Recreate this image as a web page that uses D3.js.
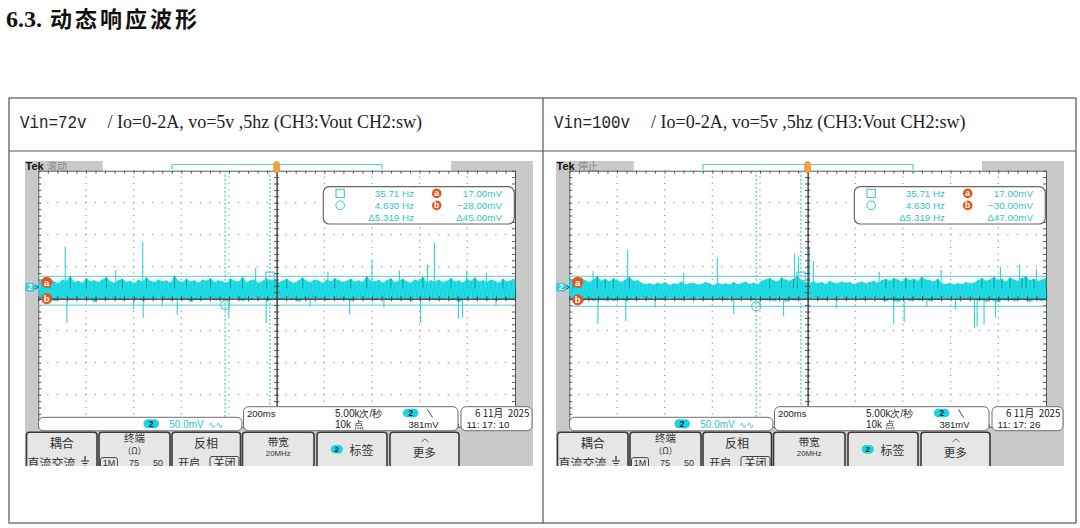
<!DOCTYPE html>
<html>
<head>
<meta charset="utf-8">
<script src="https://cdn.jsdelivr.net/npm/d3@7"></script>
<style>
  body { margin: 0; background: #fff; }
  svg { display: block; }
</style>
</head>
<body>
<svg width="1080" height="528"></svg>
<script>
// ---- values ----
const vinLabels = ['Vin=72v', 'Vin=100v'];
const loadText = '/ Io=0-2A, vo=5v ,5hz';
const chText = '(CH3:Vout CH2:sw)';
const runState = ['滚动', '停止'];
const clockTimes = ['11: 17: 10', '11: 17: 26'];
const dateText = '6 11月  2025';
const timeScale = 200;      // ms / div
const ch2Scale = 50;        // mV / div
const ch2Position = 0.36;   // div above centre
const sampleRate = '5.00k次/秒';
const recordLen = '10k 点';
const trigLevel = '381mV';
const cursorA = [17.00, 17.00];     // mV
const cursorB = [-28.00, -30.00];   // mV
const cursorT1 = [-28, -28];        // ms
const cursorT2 = [-216, -216];      // ms

// noise band envelope of CH2, mV (120 samples over 2 s)
const upper72 = [
  8, 11, 7, 13, 9, 6, 12, 10, 17, 8,
  10, 7, 14, 9, 11, 8, 12, 16, 9, 7,
  11, 13, 8, 10, 6, 12, 9, 15, 10, 8,
  12, 9, 11, 7, 18, 10, 8, 13, 9, 11,
  7, 12, 10, 14, 8, 11, 9, 7, 13, 10,
  9, 16, 8, 11, 12, 7, 10, 14, 9, 12,
  8, 10, 13, 9, 7, 11, 15, 10, 8, 12,
  10, 7, 12, 9, 14, 11, 8, 10, 13, 9,
  11, 8, 17, 10, 9, 12, 7, 11, 14, 8,
  10, 13, 9, 7, 12, 10, 16, 8, 11, 9,
  12, 8, 10, 14, 9, 11, 7, 13, 10, 15,
  9, 11, 8, 12, 10, 7, 13, 9, 11, 10
];
const lower72 = [
  -18, -20, -17, -19, -22, -18, -19, -17, -21, -18,
  -19, -17, -20, -18, -24, -19, -18, -20, -17, -19,
  -18, -21, -19, -17, -20, -18, -22, -19, -18, -20,
  -17, -19, -18, -21, -19, -17, -20, -18, -23, -19,
  -20, -18, -19, -17, -21, -18, -19, -20, -18, -17,
  -19, -22, -18, -20, -17, -19, -18, -21, -19, -18,
  -18, -19, -17, -20, -18, -23, -19, -18, -20, -17,
  -19, -18, -21, -17, -19, -20, -18, -19, -22, -18,
  -17, -20, -18, -19, -21, -18, -17, -20, -19, -18,
  -20, -18, -19, -22, -17, -19, -18, -20, -18, -21,
  -18, -19, -17, -20, -19, -24, -18, -19, -17, -20,
  -19, -18, -20, -17, -21, -19, -18, -20, -19, -18
];
const upper100 = [
  10, 13, 9, 15, 11, 8, 12, 17, 10, 13,
  9, 14, 11, 8, 12, 16, 10, 11, 7, 5,
  6, 4, 7, 5, 8, 3, 6, 5, 9, 4,
  6, 7, 4, 5, 8, 6, 3, 7, 5, 6,
  4, 8, 5, 6, 9, 5, 7, 4, 10, 12,
  14, 11, 9, 15, 12, 10, 13, 17, 11, 8,
  7, 9, 6, 8, 5, 10, 7, 6, 9, 7,
  8, 5, 7, 9, 6, 8, 10, 7, 11, 13,
  10, 14, 12, 9, 15, 11, 13, 10, 16, 12,
  11, 9, 13, 6, 5, 7, 4, 6, 5, 8,
  6, 7, 11, 14, 10, 12, 16, 11, 13, 9,
  15, 12, 10, 14, 17, 11, 13, 10, 12, 14
];
const lower100 = [
  -19, -21, -18, -23, -20, -19, -22, -18, -20, -21,
  -19, -22, -18, -20, -21, -19, -18, -20, -17, -18,
  -19, -17, -18, -20, -18, -17, -19, -18, -20, -17,
  -18, -19, -17, -18, -20, -18, -17, -19, -18, -21,
  -17, -18, -19, -17, -20, -18, -19, -17, -20, -21,
  -19, -22, -20, -18, -23, -19, -21, -20, -18, -19,
  -18, -17, -19, -18, -20, -17, -19, -18, -17, -20,
  -18, -19, -17, -20, -18, -19, -17, -18, -20, -22,
  -19, -21, -23, -20, -19, -22, -18, -21, -20, -19,
  -22, -18, -20, -17, -19, -18, -17, -19, -18, -20,
  -18, -19, -21, -20, -23, -19, -22, -24, -20, -21,
  -19, -22, -20, -18, -21, -23, -19, -20, -22, -19
];
// isolated glitches [time ms, peak mV]
const spikes72 = [
  [-887, 63], [-562, 71], [-675, 27], [-88, 30], [215, 24], [400, 42],
  [515, 26], [633, 36], [662, 69], [797, 26], [880, 22],
  [-880, -56], [-600, -34], [-560, -48], [-480, -30], [-417, -43], [-201, -47],
  [-44, -56], [140, -30], [306, -42], [450, -32], [604, -56], [763, -50],
  [780, -47], [920, -29]
];
const spikes100 = [
  [-900, 25], [-755, 58], [-520, 22], [-379, 46], [-55, 52], [-38, 47],
  [7, 63], [24, 41], [300, 24], [560, 27], [809, 32], [889, 35], [960, 28],
  [-880, -57], [-763, -53], [-640, -32], [-310, -42], [-200, -30], [-101, -45],
  [120, -33], [361, -57], [405, -54], [500, -31], [620, -35], [700, -64],
  [711, -62], [740, -57], [788, -47]
];

// ---- layout ----
const svg = d3.select('svg');
const cellX = [9, 543];
const panelX = [0, 531];
const G = { left: 38.3, right: 515, top: 170.7, bottom: 426.7 };
const teal = '#1fe0e8';
const tealText = '#36c2ca';
const orange = '#e5561f';
const tekFont = '"Liberation Sans", Arial, sans-serif';
const cjkFont = '"Noto Sans CJK SC", sans-serif';

// title
const title = svg.append('text').attr('y', 27).attr('font-weight', 'bold').attr('fill', '#111');
title.append('tspan').attr('x', 6).attr('font-family', '"Liberation Serif", serif').attr('font-size', 24).text('6.3.');
title.append('tspan').attr('x', 50).attr('font-family', cjkFont).attr('font-size', 22)
  .attr('letter-spacing', 3).text('动态响应波形');

// table
const tbl = svg.append('g').attr('fill', 'none').attr('stroke', '#555').attr('stroke-width', 1.2);
tbl.append('rect').attr('x', 9).attr('y', 98).attr('width', 1067).attr('height', 425);
tbl.append('line').attr('x1', 9).attr('x2', 1076).attr('y1', 151).attr('y2', 151);
tbl.append('line').attr('x1', 543).attr('x2', 543).attr('y1', 98).attr('y2', 523);

vinLabels.forEach((label, i) => {
  const x0 = cellX[i] + 11;
  const w = label.length * 9.5;
  svg.append('text').attr('x', x0).attr('y', 128)
    .attr('font-family', '"Liberation Mono", monospace').attr('font-size', 19).attr('fill', '#222')
    .attr('textLength', w).attr('lengthAdjust', 'spacingAndGlyphs').text(label);
  svg.append('text').attr('x', x0 + w + 21).attr('y', 128)
    .attr('font-family', '"Liberation Serif", serif').attr('font-size', 18).attr('fill', '#222')
    .text(loadText + ' ' + chText);
});

function badge(g, cx, cy, w, h) {
  g.append('rect').attr('x', cx - w / 2).attr('y', cy - h / 2).attr('width', w).attr('height', h)
    .attr('rx', h / 2).attr('fill', '#1bd3dc');
  g.append('text').attr('x', cx).attr('y', cy + h * 0.33).attr('text-anchor', 'middle')
    .attr('font-family', tekFont).attr('font-weight', 'bold').attr('font-size', h * 0.95)
    .attr('fill', '#123').text('2');
}

function drawScope(i) {
  const upper = [upper72, upper100][i];
  const lower = [lower72, lower100][i];
  const spikes = [spikes72, spikes100][i];

  const outer = svg.append('g').attr('transform', `translate(${panelX[i]},0)`);
  const clipId = 'scopeClip' + i;
  outer.append('clipPath').attr('id', clipId).append('rect')
    .attr('x', 25).attr('y', 161).attr('width', 508).attr('height', 305);
  const g = outer.append('g').attr('clip-path', `url(#${clipId})`);

  const x = d3.scaleLinear().domain([-5 * timeScale, 5 * timeScale]).range([G.left, G.right]);
  const y = d3.scaleLinear()
    .domain([(-4 - ch2Position) * ch2Scale, (4 - ch2Position) * ch2Scale])
    .range([G.bottom, G.top]);

  // screen background
  g.append('rect').attr('x', 25).attr('y', 161).attr('width', 508).attr('height', 305).attr('fill', '#c9c9c9');
  g.append('rect').attr('x', G.left).attr('y', G.top).attr('width', G.right - G.left)
    .attr('height', G.bottom - G.top).attr('fill', '#fff');

  // dotted graticule
  const dx = (G.right - G.left) / 10, dy = (G.bottom - G.top) / 8;
  const vDivs = d3.range(-4, 5).filter(k => k !== 0).map(k => k * timeScale);
  const hDivs = d3.range(-3, 4).filter(k => k !== 0).map(k => (k - ch2Position) * ch2Scale);
  const grid = g.append('g').attr('stroke', '#999').attr('stroke-width', 1.2);
  grid.selectAll('.gv').data(vDivs).enter().append('line')
    .attr('x1', d => x(d)).attr('x2', d => x(d)).attr('y1', G.top - 0.6).attr('y2', G.bottom)
    .attr('stroke-dasharray', `1.2 ${dy / 5 - 1.2}`);
  grid.selectAll('.gh').data(hDivs).enter().append('line')
    .attr('y1', d => y(d)).attr('y2', d => y(d)).attr('x1', G.left - 0.6).attr('x2', G.right)
    .attr('stroke-dasharray', `1.2 ${dx / 5 - 1.2}`);

  // frame with minor ticks
  const minorT = d3.range(-25, 26).map(k => k * timeScale / 5);
  const minorV = d3.range(-20, 21).map(k => (k / 5 - ch2Position) * ch2Scale);
  const noLabel = () => '';
  const frame = g.append('g').attr('color', '#555');
  frame.append('g').attr('transform', `translate(0,${G.top})`)
    .call(d3.axisBottom(x).tickValues(minorT).tickSize(3).tickSizeOuter(0).tickFormat(noLabel));
  frame.append('g').attr('transform', `translate(0,${G.bottom})`)
    .call(d3.axisTop(x).tickValues(minorT).tickSize(3).tickSizeOuter(0).tickFormat(noLabel));
  frame.append('g').attr('transform', `translate(${G.left},0)`)
    .call(d3.axisRight(y).tickValues(minorV).tickSize(3).tickSizeOuter(0).tickFormat(noLabel));
  frame.append('g').attr('transform', `translate(${G.right},0)`)
    .call(d3.axisLeft(y).tickValues(minorV).tickSize(3).tickSizeOuter(0).tickFormat(noLabel));

  // cursors
  const cur = g.append('g');
  [cursorA[i], cursorB[i]].forEach(v => {
    cur.append('line').attr('x1', G.left).attr('x2', G.right).attr('y1', y(v)).attr('y2', y(v))
      .attr('stroke', '#78d7db').attr('stroke-width', 1.3);
  });
  [cursorT1[i], cursorT2[i]].forEach(t => {
    cur.append('line').attr('x1', x(t)).attr('x2', x(t)).attr('y1', G.top).attr('y2', G.bottom)
      .attr('stroke', '#4ccad1').attr('stroke-width', 1.3).attr('stroke-dasharray', '2 2');
  });

  // CH2 trace
  const n = upper.length;
  const tAt = d3.scaleLinear().domain([0, n - 1]).range([-5 * timeScale, 5 * timeScale]);
  const band = d3.area().x((d, k) => x(tAt(k))).y0((d, k) => y(lower[k])).y1(d => y(d));
  g.append('path').datum(upper).attr('d', band).attr('fill', teal);
  const strands = [];
  upper.forEach((u, k) => {
    strands.push([x(tAt(k)), y(u)]);
    strands.push([x(tAt(k)) + 2, y(lower[k])]);
  });
  g.append('path').attr('d', d3.line()(strands)).attr('fill', 'none')
    .attr('stroke', '#13b8c0').attr('stroke-width', 0.7).attr('opacity', 0.5);
  // darker strands where the envelope peaks
  g.selectAll('.peak').data(upper.map((u, k) => [tAt(k), u]).filter(d => d[1] >= 13)).enter().append('line')
    .attr('x1', d => x(d[0])).attr('x2', d => x(d[0]))
    .attr('y1', d => y(d[1])).attr('y2', y(-2))
    .attr('stroke', '#127f86').attr('stroke-width', 0.9).attr('opacity', 0.75);
  g.selectAll('.spike').data(spikes).enter().append('line')
    .attr('x1', d => x(d[0])).attr('x2', d => x(d[0]))
    .attr('y1', y(-4)).attr('y2', d => y(d[1]))
    .attr('stroke', '#2fd3da').attr('stroke-width', 1.1);

  // centre cross
  const cx0 = x(0), cy0 = y(-ch2Position * ch2Scale);
  const centre = g.append('g').attr('color', '#444');
  centre.append('g').attr('transform', `translate(0,${cy0})`)
    .call(d3.axisBottom(x).tickValues(minorT).tickSize(2.5).tickSizeOuter(0).tickFormat(noLabel));
  centre.append('g').attr('transform', `translate(0,${cy0})`)
    .call(d3.axisTop(x).tickValues(minorT).tickSize(2.5).tickSizeOuter(0).tickFormat(noLabel));
  centre.append('g').attr('transform', `translate(${cx0},0)`)
    .call(d3.axisRight(y).tickValues(minorV).tickSize(2.5).tickSizeOuter(0).tickFormat(noLabel));
  centre.append('g').attr('transform', `translate(${cx0},0)`)
    .call(d3.axisLeft(y).tickValues(minorV).tickSize(2.5).tickSizeOuter(0).tickFormat(noLabel));

  // cursor handles
  g.append('rect').attr('x', x(cursorT1[i]) - 4.2).attr('y', y(cursorA[i]) - 4.2)
    .attr('width', 8.4).attr('height', 8.4).attr('fill', 'none').attr('stroke', '#4ccad1').attr('stroke-width', 1.1);
  g.append('circle').attr('cx', x(cursorT2[i])).attr('cy', y(cursorB[i])).attr('r', 4.5)
    .attr('fill', 'none').attr('stroke', '#4ccad1').attr('stroke-width', 1.1);
  [['a', y(cursorA[i]) + 6], ['b', y(cursorB[i]) - 6.5]].forEach(([l, yy]) => {
    g.append('circle').attr('cx', 46.7).attr('cy', yy).attr('r', 5.6).attr('fill', orange);
    g.append('text').attr('x', 46.7).attr('y', yy + 3.2).attr('text-anchor', 'middle')
      .attr('font-family', tekFont).attr('font-weight', 'bold').attr('font-size', 9.5)
      .attr('fill', '#fff').text(l);
  });

  // CH2 ground marker
  const gy = y(0);
  g.append('path').attr('d', `M25.5,${gy - 4.3}h8l3.6,4.3l-3.6,4.3h-8z`).attr('fill', '#2ad2da');
  g.append('text').attr('x', 30).attr('y', gy + 3).attr('text-anchor', 'middle')
    .attr('font-family', tekFont).attr('font-weight', 'bold').attr('font-size', 8.5).attr('fill', '#fff').text('2');
  g.append('path').attr('d', `M35.5,${gy - 2}L38.3,${gy}L35.5,${gy + 2}`).attr('fill', 'none')
    .attr('stroke', '#333').attr('stroke-width', 0.9);

  // cursor readout
  const hz = d3.format('.4g'), mv = d3.format('.2f');
  const ro = g.append('g');
  ro.append('rect').attr('x', 323.3).attr('y', 186.7).attr('width', 191).attr('height', 37.3).attr('rx', 6)
    .attr('fill', '#fff').attr('stroke', '#666').attr('stroke-width', 1.2);
  ro.append('rect').attr('x', 336).attr('y', 189.3).attr('width', 8.3).attr('height', 8.3)
    .attr('fill', 'none').attr('stroke', tealText).attr('stroke-width', 1);
  ro.append('circle').attr('cx', 340.2).attr('cy', 205.3).attr('r', 4.3)
    .attr('fill', 'none').attr('stroke', tealText).attr('stroke-width', 1);
  const rows = [
    [hz(1000 / Math.abs(cursorT1[i])) + ' Hz', 'a', mv(cursorA[i]) + 'mV'],
    [hz(1000 / Math.abs(cursorT2[i])) + ' Hz', 'b', mv(cursorB[i]) + 'mV'],
    ['Δ' + hz(1000 / Math.abs(cursorT1[i] - cursorT2[i])) + ' Hz', null, 'Δ' + mv(cursorA[i] - cursorB[i]) + 'mV']
  ];
  rows.forEach((r, k) => {
    const by = 197 + k * 12;
    ro.append('text').attr('x', 414).attr('y', by).attr('text-anchor', 'end')
      .attr('font-family', tekFont).attr('font-size', 9.8).attr('fill', tealText).text(r[0]);
    ro.append('text').attr('x', 502).attr('y', by).attr('text-anchor', 'end')
      .attr('font-family', tekFont).attr('font-size', 9.8).attr('fill', tealText).text(r[2]);
    if (r[1]) {
      ro.append('circle').attr('cx', 436.7).attr('cy', by - 3.6).attr('r', 4.8).attr('fill', orange);
      ro.append('text').attr('x', 436.7).attr('y', by - 0.6).attr('text-anchor', 'middle')
        .attr('font-family', tekFont).attr('font-weight', 'bold').attr('font-size', 8.5)
        .attr('fill', '#fff').text(r[1]);
    }
  });

  // top status bar
  g.append('rect').attr('x', 102.7).attr('y', 161).attr('width', 348.3).attr('height', 9.4).attr('fill', '#fff');
  g.append('path').attr('d', 'M172,169.5V164.5H382V169.5').attr('fill', 'none')
    .attr('stroke', '#52d0d6').attr('stroke-width', 1.2);
  g.append('rect').attr('x', cx0 - 3).attr('y', 161.5).attr('width', 6).attr('height', 11.5).attr('rx', 3)
    .attr('fill', '#f2a23a').attr('stroke', '#e08a20').attr('stroke-width', 0.6);
  g.append('text').attr('x', 25.5).attr('y', 170.3).attr('font-family', tekFont).attr('font-weight', 'bold')
    .attr('font-size', 11).attr('fill', '#111').text('Tek');
  g.append('text').attr('x', 47).attr('y', 170.3).attr('font-family', cjkFont).attr('font-size', 10)
    .attr('fill', '#888').text(runState[i]);

  // bottom readouts
  const box = (x0, y0, w, h) => g.append('rect').attr('x', x0).attr('y', y0).attr('width', w).attr('height', h)
    .attr('rx', 5).attr('fill', '#fff').attr('stroke', '#6e6e6e').attr('stroke-width', 1);
  box(38.5, 417.3, 203.5, 13.5);
  box(243.5, 406.7, 214.5, 24);
  box(461, 406.7, 71, 24);
  badge(g, 151.2, 423.8, 15.5, 9);
  g.append('text').attr('x', 169.3).attr('y', 428).attr('font-family', tekFont).attr('font-size', 10)
    .attr('fill', tealText).text(d3.format('.1f')(ch2Scale) + 'mV');
  g.append('text').attr('x', 208).attr('y', 428).attr('font-family', '"DejaVu Sans", sans-serif').attr('font-size', 9)
    .attr('fill', tealText).text('∿∿');
  g.append('text').attr('x', 247).attr('y', 416.5).attr('font-family', tekFont).attr('font-size', 9.5)
    .attr('fill', '#222').text(timeScale + 'ms');
  g.append('text').attr('x', 335).attr('y', 416.5).attr('font-family', tekFont).attr('font-size', 10)
    .attr('fill', '#222').text(sampleRate);
  g.append('text').attr('x', 335).attr('y', 428.3).attr('font-family', tekFont).attr('font-size', 10)
    .attr('fill', '#222').text(recordLen);
  badge(g, 410.7, 413, 15.5, 8.6);
  g.append('path').attr('d', 'M427.5,409.5L432.5,417.5').attr('stroke', '#333').attr('stroke-width', 0.9);
  g.append('text').attr('x', 438.5).attr('y', 428.3).attr('text-anchor', 'end').attr('font-family', tekFont)
    .attr('font-size', 9.5).attr('fill', '#222').text(trigLevel);
  g.append('text').attr('x', 529.5).attr('y', 416.5).attr('text-anchor', 'end').attr('font-family', cjkFont)
    .attr('font-size', 9.8).attr('fill', '#222').attr('xml:space', 'preserve').text(dateText);
  g.append('text').attr('x', 466.5).attr('y', 428.3).attr('font-family', tekFont).attr('font-size', 9.8)
    .attr('fill', '#222').text(clockTimes[i]);

  // soft-key row
  const btnX = [[26.5, 97], [99, 170], [172, 240.5], [242.5, 314], [317, 387], [390, 459]];
  btnX.forEach(([a, b]) => {
    g.append('rect').attr('x', a).attr('y', 432.3).attr('width', b - a).attr('height', 40).attr('rx', 3)
      .attr('fill', '#e6e6e6').attr('stroke', '#3a3a3a').attr('stroke-width', 1.6);
  });
  const label = (tx, ty, str, size, anchor) => g.append('text').attr('x', tx).attr('y', ty)
    .attr('text-anchor', anchor || 'middle').attr('font-family', cjkFont).attr('font-size', size)
    .attr('fill', '#333').text(str);
  label(61.7, 447.8, '耦合', 12);
  label(27.5, 467.5, '直流交流', 12, 'start');
  g.append('path').attr('d', 'M85,456V461M81,461H89M82.5,463.5H87.5M84,466H86')
    .attr('stroke', '#333').attr('stroke-width', 1.2).attr('fill', 'none');
  label(134.5, 442, '终端', 10.5);
  label(134.5, 454, '（Ω）', 8.5);
  g.append('rect').attr('x', 100.5).attr('y', 457.6).attr('width', 17).attr('height', 11).attr('rx', 2)
    .attr('fill', 'none').attr('stroke', '#333').attr('stroke-width', 0.9);
  g.append('text').attr('x', 109).attr('y', 466.2).attr('text-anchor', 'middle').attr('font-family', tekFont)
    .attr('font-size', 9).attr('fill', '#333').text('1M');
  g.append('text').attr('x', 134).attr('y', 466.2).attr('text-anchor', 'middle').attr('font-family', tekFont)
    .attr('font-size', 9).attr('fill', '#333').text('75');
  g.append('text').attr('x', 158).attr('y', 466.2).attr('text-anchor', 'middle').attr('font-family', tekFont)
    .attr('font-size', 9).attr('fill', '#333').text('50');
  label(206, 447.5, '反相', 12);
  label(178, 466.5, '开启', 11, 'start');
  g.append('rect').attr('x', 210).attr('y', 456.5).attr('width', 29).attr('height', 12).attr('rx', 2)
    .attr('fill', 'none').attr('stroke', '#333').attr('stroke-width', 0.9);
  label(224.5, 466.5, '关闭', 11);
  label(278.2, 446.3, '带宽', 10.5);
  g.append('text').attr('x', 278.2).attr('y', 456.3).attr('text-anchor', 'middle').attr('font-family', tekFont)
    .attr('font-size', 7.8).attr('fill', '#333').text('20MHz');
  badge(g, 336.8, 449.2, 12, 8.4);
  label(361.5, 455, '标签', 12);
  g.append('path').attr('d', 'M421.5,442L425,438.8L428.5,442').attr('fill', 'none')
    .attr('stroke', '#555').attr('stroke-width', 0.9);
  label(424.3, 457, '更多', 11.5);
}

drawScope(0);
drawScope(1);
</script>
</body>
</html>
